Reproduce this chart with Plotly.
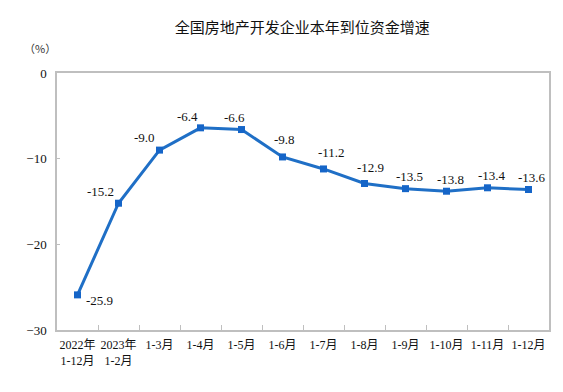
import plotly.graph_objects as go

categories = ["2022年<br>1-12月", "2023年<br>1-2月", "1-3月", "1-4月", "1-5月", "1-6月",
              "1-7月", "1-8月", "1-9月", "1-10月", "1-11月", "1-12月"]
values = [-25.9, -15.2, -9.0, -6.4, -6.6, -9.8, -11.2, -12.9, -13.5, -13.8, -13.4, -13.6]
y_ticks = [0, -10, -20, -30]

# label offsets (pixels) per point
label_dx = [22, -18, -15, -13, -7, 2, 8, 6, 4, 4, 4, 3]
label_dy = [-6, 12, 13, 11, 12, 17, 16, 16, 12, 12, 12, 12]

FONT = '"Liberation Serif", "Times New Roman", "Noto Sans CJK SC", serif'
AX = "#bfbfbf"

fig = go.Figure()
fig.add_trace(go.Scatter(
    x=categories, y=values, mode="lines+markers",
    line=dict(color="#1f6fc6", width=3),
    marker=dict(symbol="square", size=7, color="#1565c8"),
    hoverinfo="skip",
))

for c, v, dx, dy in zip(categories, values, label_dx, label_dy):
    fig.add_annotation(x=c, y=v, text=f"{v:.1f}", showarrow=False,
                       xshift=dx, yshift=dy,
                       font=dict(family=FONT, size=13, color="#111111"))

fig.add_annotation(xref="paper", yref="paper", x=-0.035, y=1.097,
                   xanchor="center", yanchor="middle",
                   text="（%）", showarrow=False,
                   font=dict(family='"Noto Sans CJK SC"', size=11, color="#333333"))

fig.update_layout(
    width=555, height=384,
    margin=dict(l=49, r=14, t=65, b=62, autoexpand=False),
    paper_bgcolor="white", plot_bgcolor="white",
    showlegend=False,
    title=dict(text="全国房地产开发企业本年到位资金增速", x=0.53, xanchor="center",
               y=0.948, yanchor="middle",
               font=dict(family='"Noto Sans CJK SC"', size=15, color="#111111")),
    xaxis=dict(type="category", range=[-0.5, len(categories) - 0.5],
               showline=True, linecolor=AX, linewidth=1.5, mirror=True,
               ticks="inside", tickson="boundaries", ticklen=5, tickcolor=AX,
               showgrid=False, zeroline=False, tickangle=0, automargin=False,
               ticklabelstandoff=3,
               tickfont=dict(family=FONT, size=12, color="#111111")),
    yaxis=dict(range=[-30, 0], tickvals=y_ticks, showline=True, linecolor=AX, linewidth=1.5,
               mirror=True, ticks="inside", ticklen=3, tickcolor=AX, automargin=False,
               showgrid=False, zeroline=False, ticklabelstandoff=6,
               tickfont=dict(family=FONT, size=13, color="#111111")),
)

fig.write_html("out.html")
